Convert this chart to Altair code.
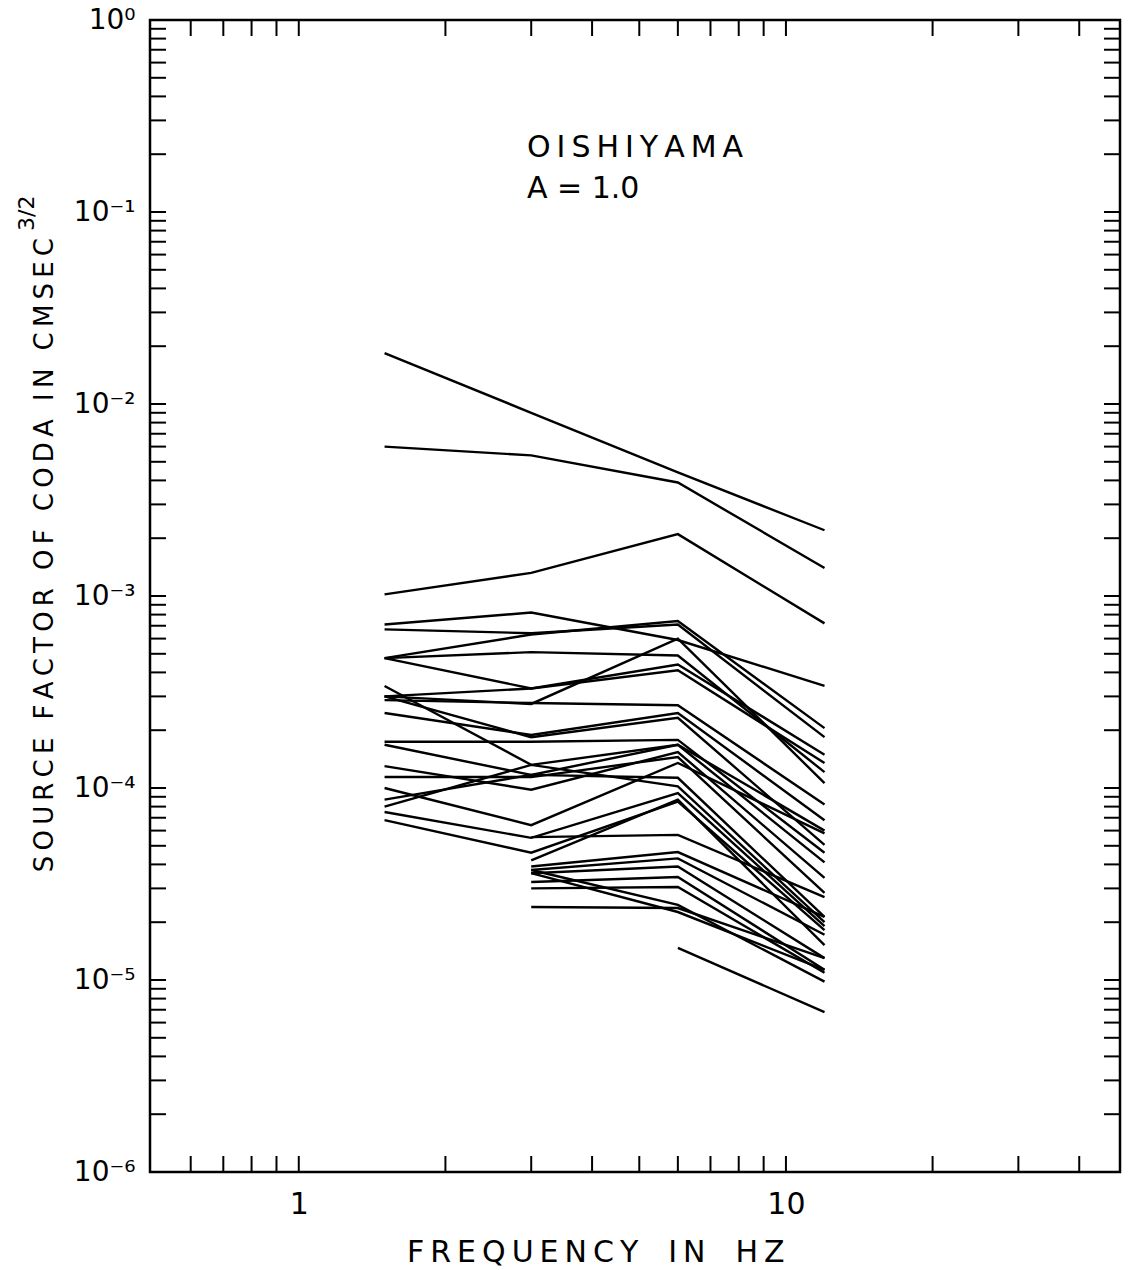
import altair as alt
import pandas as pd

# ---------------- data ----------------
freqs = [1.5, 3.0, 6.0, 12.0]  # Hz

# source factor values (cm sec^3/2) at 1.5, 3, 6, 12 Hz; None = no value
s01 = [1.84e-2, 9.0e-3, 4.4e-3, 2.2e-3]
s02 = [6.0e-3, 5.4e-3, 3.9e-3, 1.4e-3]
s03 = [1.02e-3, 1.32e-3, 2.1e-3, 7.2e-4]
s04 = [7.1e-4, 8.2e-4, 5.9e-4, 3.4e-4]
s05 = [6.7e-4, 6.4e-4, 7.1e-4, 1.84e-4]
s06 = [4.75e-4, 6.3e-4, 7.4e-4, 2.05e-4]
s07 = [4.75e-4, 3.3e-4, 4.4e-4, 1.49e-4]
s08 = [4.75e-4, 5.1e-4, 4.9e-4, 1.21e-4]
s09 = [3.4e-4, 1.32e-4, 1.68e-4, 6.0e-5]
s10 = [3.0e-4, 2.74e-4, 6.0e-4, 1.06e-4]
s11 = [3.0e-4, 3.3e-4, 4.1e-4, 1.35e-4]
s12 = [2.87e-4, 2.77e-4, 2.7e-4, 8.2e-5]
s13 = [2.46e-4, 1.89e-4, 2.46e-4, 6.8e-5]
s14 = [3.0e-4, 1.84e-4, 2.32e-4, 5.05e-5]
s15 = [1.74e-4, 1.74e-4, 1.78e-4, 4.6e-5]
s16 = [1.68e-4, 1.17e-4, 1.68e-4, 4.1e-5]
s17 = [1.30e-4, 9.8e-5, 1.54e-4, 3.4e-5]
s18 = [1.14e-4, 1.14e-4, 1.45e-4, 2.84e-5]
s19 = [1.0e-4, 6.4e-5, 1.35e-4, 5.8e-5]
s20 = [8.7e-5, 1.17e-4, 1.13e-4, 2.13e-5]
s21 = [8.0e-5, 1.32e-4, 1.02e-4, 2.0e-5]
s22 = [7.5e-5, 5.5e-5, 9.4e-5, 1.91e-5]
s23 = [6.8e-5, 4.6e-5, 8.5e-5, 1.82e-5]
s24 = [None, 4.2e-5, 8.7e-5, 1.52e-5]
s25 = [None, 5.55e-5, 5.7e-5, 2.7e-5]
s26 = [None, 3.9e-5, 4.64e-5, 2.13e-5]
s27 = [None, 3.74e-5, 4.3e-5, 1.72e-5]
s28 = [None, 3.6e-5, 3.9e-5, 1.3e-5]
s29 = [None, 3.24e-5, 3.44e-5, 1.13e-5]
s30 = [None, 3.0e-5, 3.05e-5, 1.09e-5]
s31 = [None, 3.74e-5, 2.46e-5, 9.8e-6]
s32 = [None, 3.6e-5, 2.26e-5, 1.13e-5]
s33 = [None, 2.4e-5, 2.37e-5, 1.3e-5]
s34 = [None, None, 1.47e-5, 6.8e-6]

all_series = [s01, s02, s03, s04, s05, s06, s07, s08, s09, s10, s11, s12,
              s13, s14, s15, s16, s17, s18, s19, s20, s21, s22, s23, s24,
              s25, s26, s27, s28, s29, s30, s31, s32, s33, s34]

x_domain = [0.495, 48.5]
y_domain = [1e-6, 1.0]
x_label_values = [1, 10]
y_label_values = [1e-6, 1e-5, 1e-4, 1e-3, 1e-2, 1e-1, 1.0]
x_tick_values = [0.6, 0.7, 0.8, 0.9, 1, 2, 3, 4, 5, 6, 7, 8, 9, 10, 20, 30, 40]
y_tick_values = [m * 10.0 ** k for k in range(-6, 0) for m in range(1, 10)][1:]

annotation_lines = ["O\u2009I\u2009S\u2009H\u2009I\u2009Y\u2009A\u2009M\u2009A",
                    "A = 1.0"]
x_title = "F\u2009R\u2009E\u2009Q\u2009U\u2009E\u2009N\u2009C\u2009Y\u2002\u2002I\u2009N\u2002\u2002H\u2009Z"
y_title = ("S\u2009O\u2009U\u2009R\u2009C\u2009E\u2002\u2009F\u2009A\u2009C\u2009T\u2009O\u2009R"
           "\u2002\u2009O\u2009F\u2002\u2009C\u2009O\u2009D\u2009A\u2002\u2009I\u2009N"
           "\u2002\u2009C\u2009M\u2009S\u2009E\u2009C")
y_title_sup = "3/2"

# ---------------- build table ----------------
rows = []
for i, s in enumerate(all_series):
    for f, v in zip(freqs, s):
        if v is not None:
            rows.append({"line": i, "freq": f, "value": v})
df = pd.DataFrame(rows)

W, H = 970, 1152
FONT = "DejaVu Sans"
TICK = 16

xscale = alt.Scale(type="log", domain=x_domain, nice=False)
yscale = alt.Scale(type="log", domain=y_domain, nice=False)

lines = alt.Chart(df).mark_line(color="black", strokeWidth=2.4).encode(
    x=alt.X("freq:Q", scale=xscale,
            axis=alt.Axis(values=x_label_values, title=None, ticks=False, tickSize=0,
                          domain=False, grid=False, labelFont=FONT, labelFontSize=30,
                          labelColor="black", labelPadding=41,
                          labelBaseline="alphabetic",
                          labelExpr="datum.value < 5 ? '1' : '10'")),
    y=alt.Y("value:Q", scale=yscale,
            axis=alt.Axis(values=y_label_values, title=None, ticks=False, tickSize=0,
                          domain=False, grid=False, labelFont=FONT, labelFontSize=28,
                          labelColor="black", labelPadding=15, labelAlign="right",
                          labelBaseline="middle",
                          labelExpr="['10\u207b\u2076','10\u207b\u2075','10\u207b\u2074','10\u207b\u00b3','10\u207b\u00b2','10\u207b\u00b9','10\u2070'][round(log(datum.value)/LN10)+6]")),
    detail="line:N",
)

xt = pd.DataFrame({"v": x_tick_values})
yt = pd.DataFrame({"v": y_tick_values})

xt_top = alt.Chart(xt).mark_rule(color="black", strokeWidth=2).encode(
    x=alt.X("v:Q", scale=xscale), y=alt.value(0), y2=alt.value(TICK))
xt_bot = alt.Chart(xt).mark_rule(color="black", strokeWidth=2).encode(
    x=alt.X("v:Q", scale=xscale), y=alt.value(H), y2=alt.value(H - TICK))
yt_left = alt.Chart(yt).mark_rule(color="black", strokeWidth=2).encode(
    y=alt.Y("v:Q", scale=yscale), x=alt.value(0), x2=alt.value(TICK))
yt_right = alt.Chart(yt).mark_rule(color="black", strokeWidth=2).encode(
    y=alt.Y("v:Q", scale=yscale), x=alt.value(W), x2=alt.value(W - TICK))

ann1 = alt.Chart(pd.DataFrame({"t": [annotation_lines[0]]})).mark_text(
    font=FONT, fontSize=30, align="left", baseline="alphabetic", color="black"
).encode(text="t:N", x=alt.value(377), y=alt.value(137))
ann2 = alt.Chart(pd.DataFrame({"t": [annotation_lines[1]]})).mark_text(
    font=FONT, fontSize=30, align="left", baseline="alphabetic", color="black"
).encode(text="t:N", x=alt.value(377), y=alt.value(178))

xtitle = alt.Chart(pd.DataFrame({"t": [x_title]})).mark_text(
    font=FONT, fontSize=30, align="left", baseline="alphabetic", color="black"
).encode(text="t:N", x=alt.value(257), y=alt.value(1242))

ytitle = alt.Chart(pd.DataFrame({"t": [y_title]})).mark_text(
    font=FONT, fontSize=26, align="right", baseline="middle", angle=270, color="black"
).encode(text="t:N", x=alt.value(-105), y=alt.value(218))
ytitle_sup = alt.Chart(pd.DataFrame({"t": [y_title_sup]})).mark_text(
    font=FONT, fontSize=22, align="left", baseline="middle", angle=270, color="black"
).encode(text="t:N", x=alt.value(-123), y=alt.value(211))

chart = alt.layer(
    lines, xt_top, xt_bot, yt_left, yt_right, ann1, ann2, xtitle, ytitle, ytitle_sup
).properties(
    width=W, height=H,
    autosize=alt.AutoSizeParams(type="none"),
    padding={"left": 150, "top": 20, "right": 12, "bottom": 98},
    background="white",
).configure_view(stroke="black", strokeWidth=2.5)

chart.save("out.html", embed_options={"renderer": "svg", "actions": False})
